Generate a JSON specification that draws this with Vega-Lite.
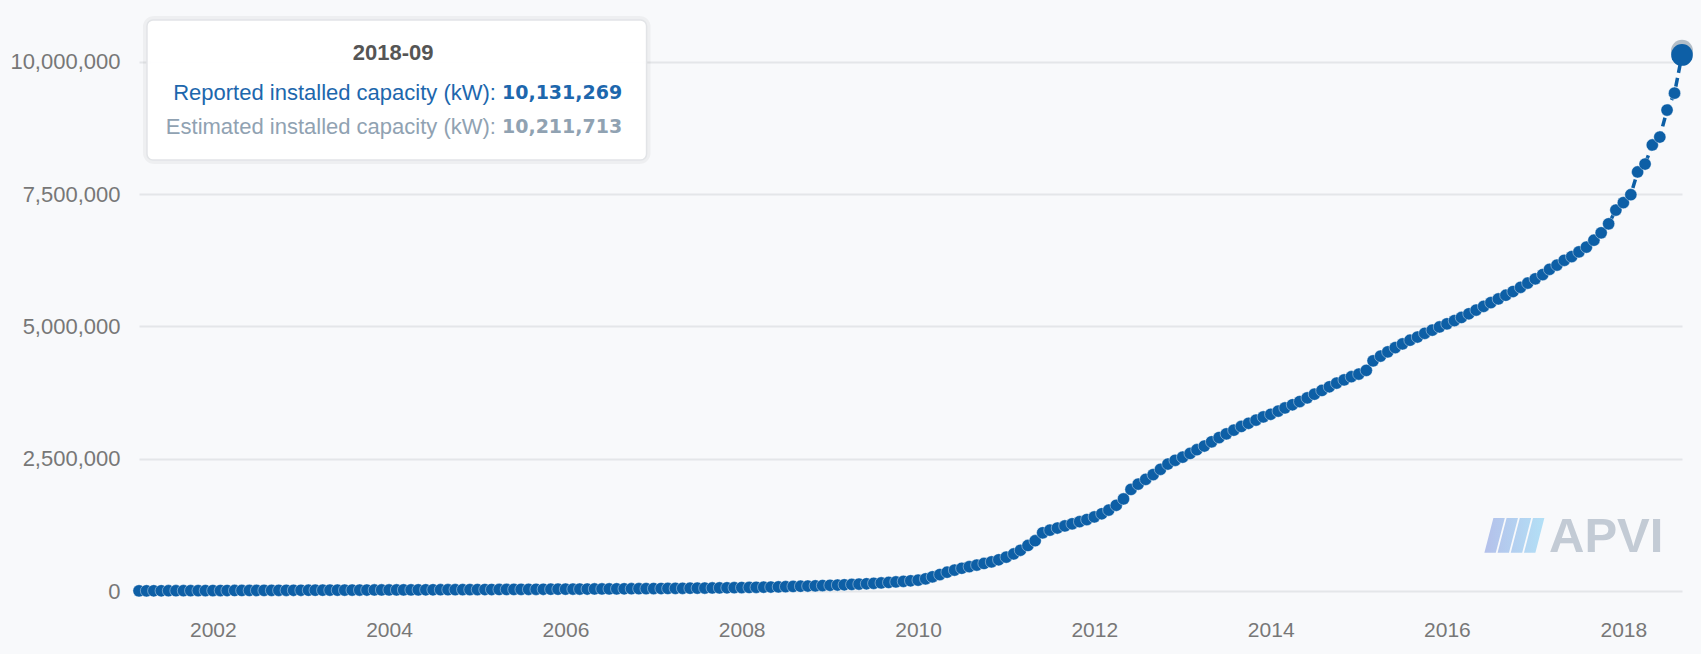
{
  "$schema": "https://vega.github.io/schema/vega-lite/v6.json",
  "width": 1543,
  "height": 582,
  "autosize": {"type": "none"},
  "padding": {"left": 139, "top": 9, "right": 19, "bottom": 63},
  "background": "#f8f9fb",
  "config": {"view": {"stroke": null}, "font": "Liberation Sans"},
  "datasets": {
    "series": [
      {"m": "2001-03", "r": 3000}, {"m": "2001-04", "r": 3500}, {"m": "2001-05", "r": 4000}, {"m": "2001-06", "r": 4500}, {"m": "2001-07", "r": 5000}, {"m": "2001-08", "r": 5500}, {"m": "2001-09", "r": 6000}, {"m": "2001-10", "r": 6500}, {"m": "2001-11", "r": 7000}, {"m": "2001-12", "r": 7500},
      {"m": "2002-01", "r": 8000}, {"m": "2002-02", "r": 8500}, {"m": "2002-03", "r": 9000}, {"m": "2002-04", "r": 9500}, {"m": "2002-05", "r": 10000}, {"m": "2002-06", "r": 10500}, {"m": "2002-07", "r": 11000}, {"m": "2002-08", "r": 11500}, {"m": "2002-09", "r": 12000}, {"m": "2002-10", "r": 12500}, {"m": "2002-11", "r": 13000}, {"m": "2002-12", "r": 13500},
      {"m": "2003-01", "r": 14000}, {"m": "2003-02", "r": 14500}, {"m": "2003-03", "r": 15000}, {"m": "2003-04", "r": 15500}, {"m": "2003-05", "r": 16000}, {"m": "2003-06", "r": 16500}, {"m": "2003-07", "r": 17000}, {"m": "2003-08", "r": 17500}, {"m": "2003-09", "r": 18000}, {"m": "2003-10", "r": 18500}, {"m": "2003-11", "r": 19000}, {"m": "2003-12", "r": 19500},
      {"m": "2004-01", "r": 20000}, {"m": "2004-02", "r": 20500}, {"m": "2004-03", "r": 21000}, {"m": "2004-04", "r": 21600}, {"m": "2004-05", "r": 22200}, {"m": "2004-06", "r": 22800}, {"m": "2004-07", "r": 23400}, {"m": "2004-08", "r": 24000}, {"m": "2004-09", "r": 24600}, {"m": "2004-10", "r": 25200}, {"m": "2004-11", "r": 25800}, {"m": "2004-12", "r": 26400},
      {"m": "2005-01", "r": 27000}, {"m": "2005-02", "r": 27600}, {"m": "2005-03", "r": 28200}, {"m": "2005-04", "r": 28800}, {"m": "2005-05", "r": 29400}, {"m": "2005-06", "r": 30000}, {"m": "2005-07", "r": 30700}, {"m": "2005-08", "r": 31400}, {"m": "2005-09", "r": 32100}, {"m": "2005-10", "r": 32800}, {"m": "2005-11", "r": 33500}, {"m": "2005-12", "r": 34200},
      {"m": "2006-01", "r": 35000}, {"m": "2006-02", "r": 35800}, {"m": "2006-03", "r": 36600}, {"m": "2006-04", "r": 37400}, {"m": "2006-05", "r": 38200}, {"m": "2006-06", "r": 39000}, {"m": "2006-07", "r": 40000}, {"m": "2006-08", "r": 41000}, {"m": "2006-09", "r": 42000}, {"m": "2006-10", "r": 43000}, {"m": "2006-11", "r": 44000}, {"m": "2006-12", "r": 45000},
      {"m": "2007-01", "r": 46000}, {"m": "2007-02", "r": 47200}, {"m": "2007-03", "r": 48400}, {"m": "2007-04", "r": 49700}, {"m": "2007-05", "r": 51000}, {"m": "2007-06", "r": 52500}, {"m": "2007-07", "r": 54000}, {"m": "2007-08", "r": 55600}, {"m": "2007-09", "r": 57300}, {"m": "2007-10", "r": 59000}, {"m": "2007-11", "r": 61000}, {"m": "2007-12", "r": 63000},
      {"m": "2008-01", "r": 65000}, {"m": "2008-02", "r": 67000}, {"m": "2008-03", "r": 69500}, {"m": "2008-04", "r": 72000}, {"m": "2008-05", "r": 75000}, {"m": "2008-06", "r": 78000}, {"m": "2008-07", "r": 82000}, {"m": "2008-08", "r": 86000}, {"m": "2008-09", "r": 90000}, {"m": "2008-10", "r": 94000}, {"m": "2008-11", "r": 98000}, {"m": "2008-12", "r": 103000},
      {"m": "2009-01", "r": 108000}, {"m": "2009-02", "r": 113000}, {"m": "2009-03", "r": 118000}, {"m": "2009-04", "r": 124000}, {"m": "2009-05", "r": 130000}, {"m": "2009-06", "r": 137000}, {"m": "2009-07", "r": 145000}, {"m": "2009-08", "r": 153000}, {"m": "2009-09", "r": 162000}, {"m": "2009-10", "r": 172000}, {"m": "2009-11", "r": 182000}, {"m": "2009-12", "r": 193000},
      {"m": "2010-01", "r": 205000}, {"m": "2010-02", "r": 230000}, {"m": "2010-03", "r": 268000}, {"m": "2010-04", "r": 310000}, {"m": "2010-05", "r": 355000}, {"m": "2010-06", "r": 395000}, {"m": "2010-07", "r": 430000}, {"m": "2010-08", "r": 460000}, {"m": "2010-09", "r": 490000}, {"m": "2010-10", "r": 520000}, {"m": "2010-11", "r": 550000}, {"m": "2010-12", "r": 590000},
      {"m": "2011-01", "r": 640000}, {"m": "2011-02", "r": 700000}, {"m": "2011-03", "r": 770000}, {"m": "2011-04", "r": 860000}, {"m": "2011-05", "r": 950000}, {"m": "2011-06", "r": 1100000}, {"m": "2011-07", "r": 1150000}, {"m": "2011-08", "r": 1190000}, {"m": "2011-09", "r": 1230000}, {"m": "2011-10", "r": 1270000}, {"m": "2011-11", "r": 1310000}, {"m": "2011-12", "r": 1350000},
      {"m": "2012-01", "r": 1400000}, {"m": "2012-02", "r": 1460000}, {"m": "2012-03", "r": 1530000}, {"m": "2012-04", "r": 1620000}, {"m": "2012-05", "r": 1740000}, {"m": "2012-06", "r": 1920000}, {"m": "2012-07", "r": 2020000}, {"m": "2012-08", "r": 2110000}, {"m": "2012-09", "r": 2200000}, {"m": "2012-10", "r": 2300000}, {"m": "2012-11", "r": 2400000}, {"m": "2012-12", "r": 2470000},
      {"m": "2013-01", "r": 2530000}, {"m": "2013-02", "r": 2600000}, {"m": "2013-03", "r": 2670000}, {"m": "2013-04", "r": 2740000}, {"m": "2013-05", "r": 2820000}, {"m": "2013-06", "r": 2900000}, {"m": "2013-07", "r": 2970000}, {"m": "2013-08", "r": 3040000}, {"m": "2013-09", "r": 3110000}, {"m": "2013-10", "r": 3170000}, {"m": "2013-11", "r": 3230000}, {"m": "2013-12", "r": 3290000},
      {"m": "2014-01", "r": 3340000}, {"m": "2014-02", "r": 3400000}, {"m": "2014-03", "r": 3460000}, {"m": "2014-04", "r": 3520000}, {"m": "2014-05", "r": 3580000}, {"m": "2014-06", "r": 3650000}, {"m": "2014-07", "r": 3720000}, {"m": "2014-08", "r": 3790000}, {"m": "2014-09", "r": 3860000}, {"m": "2014-10", "r": 3930000}, {"m": "2014-11", "r": 3990000}, {"m": "2014-12", "r": 4050000},
      {"m": "2015-01", "r": 4100000}, {"m": "2015-02", "r": 4170000}, {"m": "2015-03", "r": 4350000}, {"m": "2015-04", "r": 4440000}, {"m": "2015-05", "r": 4520000}, {"m": "2015-06", "r": 4600000}, {"m": "2015-07", "r": 4670000}, {"m": "2015-08", "r": 4740000}, {"m": "2015-09", "r": 4800000}, {"m": "2015-10", "r": 4870000}, {"m": "2015-11", "r": 4930000}, {"m": "2015-12", "r": 4990000},
      {"m": "2016-01", "r": 5050000}, {"m": "2016-02", "r": 5110000}, {"m": "2016-03", "r": 5170000}, {"m": "2016-04", "r": 5240000}, {"m": "2016-05", "r": 5310000}, {"m": "2016-06", "r": 5380000}, {"m": "2016-07", "r": 5450000}, {"m": "2016-08", "r": 5520000}, {"m": "2016-09", "r": 5590000}, {"m": "2016-10", "r": 5660000}, {"m": "2016-11", "r": 5740000}, {"m": "2016-12", "r": 5820000},
      {"m": "2017-01", "r": 5900000}, {"m": "2017-02", "r": 5980000}, {"m": "2017-03", "r": 6080000}, {"m": "2017-04", "r": 6160000}, {"m": "2017-05", "r": 6250000}, {"m": "2017-06", "r": 6320000}, {"m": "2017-07", "r": 6410000}, {"m": "2017-08", "r": 6500000}, {"m": "2017-09", "r": 6630000}, {"m": "2017-10", "r": 6770000}, {"m": "2017-11", "r": 6940000}, {"m": "2017-12", "r": 7200000},
      {"m": "2018-01", "r": 7340000}, {"m": "2018-02", "r": 7490000}, {"m": "2018-03", "r": 7920000}, {"m": "2018-04", "r": 8070000}, {"m": "2018-05", "r": 8430000}, {"m": "2018-06", "r": 8580000}, {"m": "2018-07", "r": 9090000}, {"m": "2018-08", "r": 9410000}, {"m": "2018-09", "r": 10131269}
    ]
  },
  "layer": [
    {
      "data": {"name": "series"},
      "mark": {"type": "line", "color": "#0d5fa6", "strokeWidth": 3.5, "strokeDash": [9, 5]},
      "encoding": {
        "x": {
          "field": "m", "type": "temporal",
          "scale": {"type": "utc", "domain": [{"year": 2001, "month": 3, "date": 1, "utc": true}, {"year": 2018, "month": 9, "date": 1, "utc": true}]},
          "axis": {
            "title": null, "grid": false, "domain": false, "ticks": false, "format": "%Y",
            "values": [{"year": 2002, "utc": true}, {"year": 2004, "utc": true}, {"year": 2006, "utc": true}, {"year": 2008, "utc": true}, {"year": 2010, "utc": true}, {"year": 2012, "utc": true}, {"year": 2014, "utc": true}, {"year": 2016, "utc": true}, {"year": 2018, "utc": true}],
            "labelFontSize": 21, "labelColor": "#777777", "labelPadding": 28, "labelFont": "Liberation Sans"
          }
        },
        "y": {
          "field": "r", "type": "quantitative",
          "scale": {"domain": [0, 11000000], "nice": false},
          "axis": {
            "title": null, "domain": false, "ticks": false, "grid": true, "gridColor": "#e4e6e9", "gridWidth": 2,
            "values": [0, 2500000, 5000000, 7500000, 10000000], "format": ",d",
            "labelFontSize": 22, "labelColor": "#777777", "labelPadding": 19, "labelFont": "Liberation Sans"
          }
        }
      }
    },
    {
      "data": {"name": "series"},
      "mark": {"type": "point", "filled": true, "size": 150, "color": "#0d5fa6", "opacity": 1, "stroke": "#ffffff", "strokeWidth": 1, "strokeOpacity": 0.4},
      "encoding": {
        "x": {"field": "m", "type": "temporal"},
        "y": {"field": "r", "type": "quantitative"}
      }
    },
    {
      "data": {"values": [{}]},
      "mark": {"type": "point", "filled": true, "size": 480, "color": "#b3bec8", "opacity": 1},
      "encoding": {
        "x": {"datum": {"year": 2018, "month": 9, "date": 1, "utc": true}, "type": "temporal"},
        "y": {"datum": 10211713, "type": "quantitative"}
      }
    },
    {
      "data": {"values": [{}]},
      "mark": {"type": "point", "filled": true, "size": 470, "color": "#0d5fa6", "opacity": 1},
      "encoding": {
        "x": {"datum": {"year": 2018, "month": 9, "date": 1, "utc": true}, "type": "temporal"},
        "y": {"datum": 10131269, "type": "quantitative"}
      }
    },
    {
      "data": {"values": [{}]},
      "mark": {"type": "rect", "fill": "#ffffff", "fillOpacity": 0, "stroke": "#000000", "strokeOpacity": 0.04, "strokeWidth": 8, "cornerRadius": 7},
      "encoding": {
        "x": {"datum": {"year": 2001, "month": 4, "date": 3, "utc": true}, "type": "temporal"},
        "x2": {"datum": {"year": 2006, "month": 12, "date": 3, "utc": true}},
        "y": {"datum": 10794000, "type": "quantitative"},
        "y2": {"datum": 8147000}
      }
    },
    {
      "data": {"values": [{}]},
      "mark": {"type": "rect", "fill": "#ffffff", "fillOpacity": 0.96, "stroke": "#e2e4e7", "strokeWidth": 1.5, "cornerRadius": 6},
      "encoding": {
        "x": {"datum": {"year": 2001, "month": 4, "date": 3, "utc": true}, "type": "temporal"},
        "x2": {"datum": {"year": 2006, "month": 12, "date": 3, "utc": true}},
        "y": {"datum": 10794000, "type": "quantitative"},
        "y2": {"datum": 8147000}
      }
    },
    {
      "data": {"values": [{}]},
      "mark": {"type": "text", "text": "2018-09", "align": "center", "baseline": "middle", "fontSize": 22, "fontWeight": "bold", "color": "#555555", "font": "Liberation Sans"},
      "encoding": {
        "x": {"datum": {"year": 2004, "month": 1, "date": 18, "utc": true}, "type": "temporal"},
        "y": {"datum": 10164000, "type": "quantitative"}
      }
    },
    {
      "data": {"values": [{}]},
      "mark": {"type": "text", "text": "Reported installed capacity (kW):", "align": "right", "baseline": "middle", "fontSize": 22, "color": "#1d67ad", "font": "Liberation Sans"},
      "encoding": {
        "x": {"datum": {"year": 2005, "month": 3, "date": 19, "utc": true}, "type": "temporal"},
        "y": {"datum": 9408000, "type": "quantitative"}
      }
    },
    {
      "data": {"values": [{}]},
      "mark": {"type": "text", "text": "10,131,269", "align": "left", "baseline": "middle", "dx": 6, "fontSize": 19, "fontWeight": "bold", "color": "#1d67ad", "font": "DejaVu Sans"},
      "encoding": {
        "x": {"datum": {"year": 2005, "month": 3, "date": 19, "utc": true}, "type": "temporal"},
        "y": {"datum": 9408000, "type": "quantitative"}
      }
    },
    {
      "data": {"values": [{}]},
      "mark": {"type": "text", "text": "Estimated installed capacity (kW):", "align": "right", "baseline": "middle", "fontSize": 22, "color": "#90a2b2", "font": "Liberation Sans"},
      "encoding": {
        "x": {"datum": {"year": 2005, "month": 3, "date": 19, "utc": true}, "type": "temporal"},
        "y": {"datum": 8777000, "type": "quantitative"}
      }
    },
    {
      "data": {"values": [{}]},
      "mark": {"type": "text", "text": "10,211,713", "align": "left", "baseline": "middle", "dx": 6, "fontSize": 19, "fontWeight": "bold", "color": "#90a2b2", "font": "DejaVu Sans"},
      "encoding": {
        "x": {"datum": {"year": 2005, "month": 3, "date": 19, "utc": true}, "type": "temporal"},
        "y": {"datum": 8777000, "type": "quantitative"}
      }
    },
    {
      "data": {"values": [{}]},
      "mark": {
        "type": "point", "filled": true, "opacity": 1, "size": 3600, "strokeWidth": 0,
        "shape": "M-0.72,-0.58L-0.34,-0.58L-0.64,0.58L-1.02,0.58Z M-0.28,-0.58L0.1,-0.58L-0.2,0.58L-0.58,0.58Z M0.16,-0.58L0.54,-0.58L0.24,0.58L-0.14,0.58Z M0.6,-0.58L0.98,-0.58L0.68,0.58L0.3,0.58Z",
        "fill": {"gradient": "linear", "x1": 0, "y1": 0, "x2": 1, "y2": 0, "stops": [{"offset": 0, "color": "#b4c0ea"}, {"offset": 1, "color": "#b3e0f6"}]}
      },
      "encoding": {
        "x": {"datum": {"year": 2016, "month": 10, "date": 9, "utc": true}, "type": "temporal"},
        "y": {"datum": 1050000, "type": "quantitative"}
      }
    },
    {
      "data": {"values": [{}]},
      "mark": {"type": "text", "text": "APVI", "align": "left", "baseline": "middle", "fontSize": 49, "fontWeight": "bold", "color": "#c3cbd5", "font": "Liberation Sans"},
      "encoding": {
        "x": {"datum": {"year": 2017, "month": 2, "date": 27, "utc": true}, "type": "temporal"},
        "y": {"datum": 1030000, "type": "quantitative"}
      }
    }
  ]
}
